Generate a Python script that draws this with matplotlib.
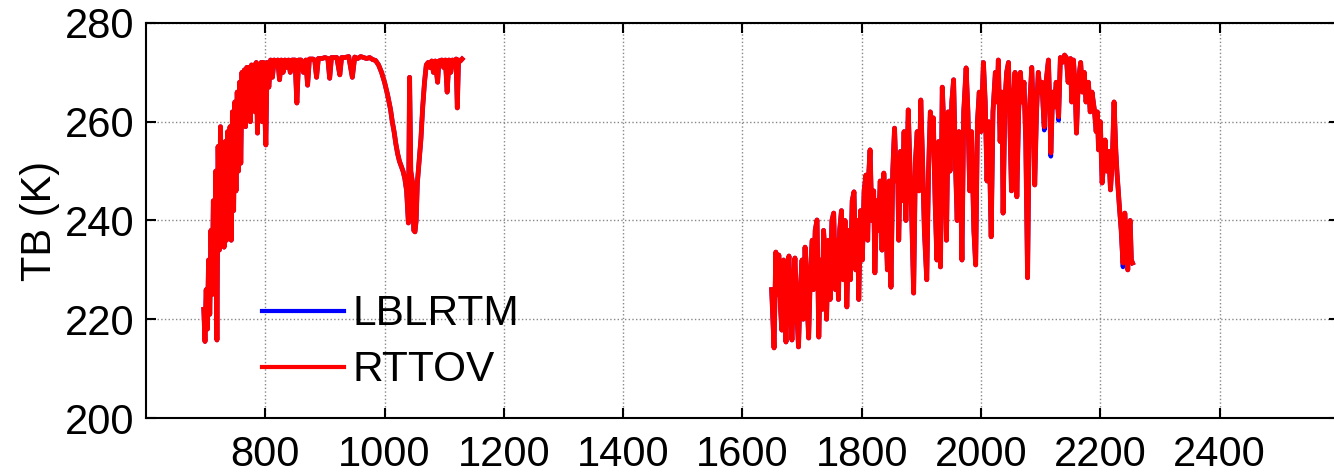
import numpy as np
import matplotlib
matplotlib.use("Agg")
import matplotlib.pyplot as plt

plt.rcParams['font.family'] = ['Liberation Sans', 'DejaVu Sans']

# band 1 (long-wave), wavenumber (cm-1) and RTTOV brightness temperature (K)
wn_band1 = [697, 699, 701, 703, 705, 707, 709, 711, 713, 715, 717, 719, 721, 723, 725,
            727, 729, 731, 733, 735, 737, 739, 741, 743, 745, 747, 749, 751, 753, 755,
            757, 759, 761, 763, 765, 767, 769, 771, 773, 775, 777, 779, 781, 783, 785,
            787, 789, 791, 793, 795, 797, 799, 801, 803, 806, 809, 812, 815, 819, 821,
            824, 827, 830, 833, 836, 839, 842, 845, 850, 853, 856, 860, 864, 868, 871,
            874, 880, 883, 886, 889, 895, 900, 905, 908, 911, 915, 920, 925, 928, 933,
            940, 946, 950, 955, 960, 965, 970, 975, 980, 985, 990, 995, 1000, 1005, 1010,
            1013, 1016, 1019, 1022, 1025, 1028, 1031, 1034, 1037, 1040, 1042, 1044, 1047,
            1049, 1051, 1053, 1055, 1058, 1061, 1064, 1067, 1070, 1073, 1076, 1079, 1082,
            1085, 1089, 1091, 1096, 1099, 1102, 1105, 1108, 1111, 1114, 1117, 1120, 1122,
            1124, 1127, 1130]
rttov_band1 = [222, 215.5, 226, 218, 232, 221, 238, 225, 244, 230, 250, 215.8, 255, 234, 259,
               236, 252, 234.6, 256, 236, 258, 238, 259, 236, 262, 242, 264, 246, 266, 250,
               268, 251.6, 270, 260, 270.5, 259, 271, 262, 271, 260, 271.5, 264, 271.5, 262, 272,
               257.7, 271.5, 264, 272, 260, 272, 263, 255.3, 272, 267, 272.5, 269, 272.5, 271.5, 272.5,
               268.5, 272.5, 270, 272.5, 271, 272.5, 270, 272.5, 272.5, 263.8, 272.5, 272.5, 270, 272.5, 267.4,
               272.7, 272.7, 272.5, 269, 272.8, 272.8, 273, 272.8, 268.8, 273, 273, 273, 269.5, 273, 273,
               273.2, 269, 273.1, 272.8, 273.2, 273, 272.8, 273, 272.6, 272.4, 271.5, 270, 268, 265.5, 262.5,
               260, 258, 255.5, 253.5, 252, 251, 250, 248.5, 246, 239.5, 269, 250, 247.6,
               238, 237.7, 240, 247.6, 252, 256.5, 263, 268, 271.5, 272, 271, 272.3, 270,
               272.3, 268, 272.3, 272.5, 271, 272.5, 266, 272.5, 270, 272.5, 271.5, 272.7, 262.8,
               272.5, 272.3, 272.7]

# band 2 (short-wave)
wn_band2 = [1649, 1651, 1653, 1656, 1658, 1661, 1664, 1666, 1669, 1671, 1673, 1676, 1678, 1681, 1683,
            1686, 1688, 1691, 1694, 1697, 1700, 1702, 1705, 1708, 1711, 1714, 1717, 1719, 1722, 1725,
            1728, 1731, 1734, 1736, 1738, 1741, 1744, 1747, 1750, 1753, 1756, 1758, 1761, 1763, 1766,
            1769, 1772, 1775, 1778, 1781, 1784, 1787, 1790, 1793, 1795, 1798, 1801, 1804, 1807, 1810,
            1812, 1814, 1817, 1820, 1822, 1825, 1828, 1831, 1834, 1837, 1840, 1843, 1846, 1849, 1852,
            1855, 1858, 1860, 1862, 1865, 1868, 1871, 1874, 1878, 1881, 1884, 1887, 1890, 1893, 1896,
            1899, 1902, 1905, 1909, 1912, 1915, 1918, 1920, 1923, 1926, 1929, 1932, 1935, 1938, 1942,
            1945, 1948, 1951, 1954, 1957, 1960, 1963, 1966, 1968, 1971, 1975, 1978, 1981, 1984, 1988,
            1991, 1994, 1997, 2000, 2004, 2007, 2010, 2013, 2017, 2020, 2024, 2027, 2029, 2032, 2035,
            2037, 2040, 2043, 2046, 2049, 2051, 2054, 2057, 2060, 2063, 2066, 2069, 2072, 2075, 2078,
            2081, 2085, 2088, 2090, 2093, 2096, 2099, 2102, 2106, 2109, 2113, 2115, 2117, 2120, 2123,
            2126, 2130, 2133, 2136, 2140, 2143, 2146, 2150, 2152, 2155, 2158, 2160, 2163, 2167, 2170,
            2173, 2176, 2180, 2183, 2186, 2190, 2193, 2195, 2197, 2200, 2203, 2206, 2208, 2211, 2214,
            2217, 2220, 2223, 2226, 2228, 2230, 2232, 2235, 2238, 2240, 2241, 2244, 2246, 2248, 2250,
            2252, 2254]
rttov_band2 = [226, 220, 214.2, 233.6, 225, 233, 222, 217.8, 232, 224, 215.4, 230, 232.8, 221, 215.8,
               228, 232.4, 222, 214.4, 226, 232, 220, 234.6, 225, 216.2, 230, 236, 226, 238, 240.1,
               216.4, 232, 222, 238, 234, 220, 236, 224, 240, 241.5, 226, 236, 224, 238, 242,
               228, 240, 222.5, 238, 228, 244, 245.8, 230, 240, 224, 242, 232, 246, 249.2, 236,
               250, 254.3, 240, 246, 229.4, 244, 238, 248, 234, 249.6, 242, 230, 248, 226.5, 250,
               258.7, 248, 252, 236, 254, 244, 258, 240, 262.4, 250, 240, 225.3, 252, 258, 246,
               264.4, 252, 238, 228, 250, 262, 256, 260.8, 244, 232, 256, 230.6, 267, 258, 236,
               262, 250, 264, 268.5, 252, 240, 258, 246, 232, 262, 270.9, 262, 246, 258, 238,
               231, 260, 266, 258, 272, 264, 248, 260, 236.7, 262, 270, 264, 272.5, 256, 266,
               241.5, 264, 270, 272, 256, 246, 264, 270, 244.8, 262, 270, 264, 268, 256, 228.4,
               262, 271, 260, 247.2, 262, 270, 266, 268, 259, 268, 272.5, 264, 253.7, 266, 263,
               268, 261, 273, 272, 273.5, 273, 268, 272.8, 264, 272.5, 266, 257.7, 268, 272, 266,
               270, 264, 268, 262, 266, 262.4, 258, 262, 254.3, 260, 247.6, 252, 256.3, 250, 254,
               246.2, 252, 264, 254, 249.6, 246, 242.7, 238, 231.4, 236, 241.5, 234, 230, 238, 240,
               232, 231.4]

# LBLRTM is nearly identical to RTTOV; channels where it dips a little deeper
lbl_diff_band2 = {2130: 260.3, 2106: 258.3, 2238: 230.6, 2117: 253.0}

lbl_band1 = list(rttov_band1)
lbl_band2 = [lbl_diff_band2.get(w, t) for w, t in zip(wn_band2, rttov_band2)]

x_ticks = [800, 1000, 1200, 1400, 1600, 1800, 2000, 2200, 2400]
y_ticks = [200, 220, 240, 260, 280]

fig = plt.figure(figsize=(13.34, 4.72), dpi=100)
ax = fig.add_axes([0.1094, 0.1144, 0.8943, 0.8369])

# blank point between the bands so each series is one line with a gap
wn_all = wn_band1 + [np.nan] + wn_band2
lbl_all = lbl_band1 + [np.nan] + lbl_band2
rttov_all = rttov_band1 + [np.nan] + rttov_band2

ax.plot(wn_all, lbl_all, color='#0000ff', lw=3.3, label='LBLRTM')
ax.plot(wn_all, rttov_all, color='#ff0000', lw=3.5, label='RTTOV')

ax.set_xlim(600, 2600)
ax.set_ylim(200, 280)
ax.set_xticks(x_ticks)
ax.set_yticks(y_ticks)
ax.grid(True, linestyle=':', color='#888888', lw=1.0)
ax.tick_params(direction='in', top=True, right=True, length=7, width=1.5,
               labelsize=30, pad=8)
ax.tick_params(axis='x', pad=12)
for s in ax.spines.values():
    s.set_linewidth(1.5)
ax.set_ylabel('TB (K)', fontsize=30, labelpad=4)

leg = ax.legend(loc='upper left', bbox_to_anchor=(0.097, 0.313), frameon=False,
                fontsize=30.5, handlelength=1.95, handletextpad=0.2,
                labelspacing=0.38, borderpad=0, borderaxespad=0)
for h in leg.get_lines():
    h.set_linewidth(3)

fig.savefig('out.png', dpi=100)
